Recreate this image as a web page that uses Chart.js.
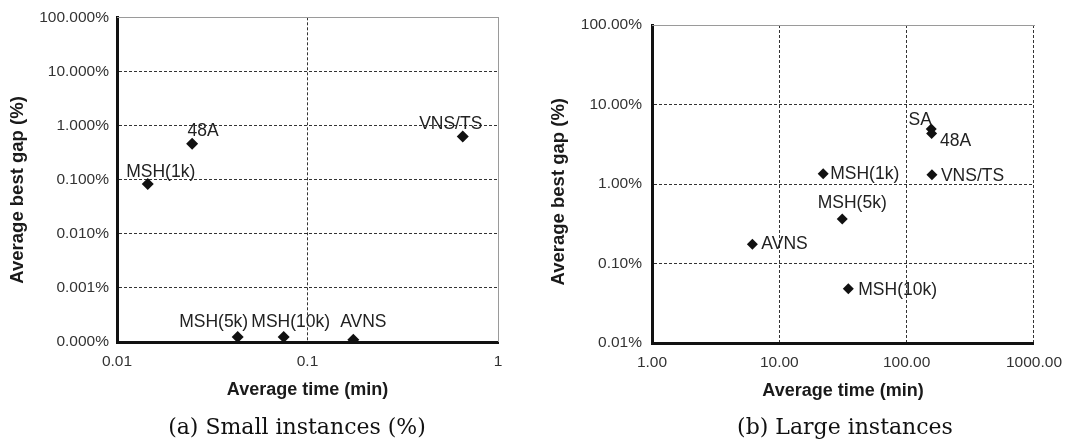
<!DOCTYPE html>
<html><head><meta charset="utf-8">
<script src="https://cdn.jsdelivr.net/npm/chart.js@4.4.0/dist/chart.umd.min.js"></script>
<style>
html,body{margin:0;padding:0;background:#fff;width:1072px;height:442px;overflow:hidden;position:relative;}
.wrap{position:absolute;top:0;width:536px;height:442px;}
.cap{position:absolute;width:400px;text-align:center;font-family:"DejaVu Serif",serif;font-size:22px;line-height:26px;color:#111;top:414px;white-space:nowrap;}
</style>
</head><body>
<div class="wrap" style="left:0"><canvas id="cA" width="536" height="442"></canvas></div>
<div class="wrap" style="left:536px"><canvas id="cB" width="536" height="442"></canvas></div>
<div class="cap" style="left:97px">(a) Small instances (%)</div>
<div class="cap" style="left:645px">(b) Large instances</div>
<script>
// ---- data: small instances ----
const smallMethods = ['MSH(1k)', '48A', 'VNS/TS', 'MSH(5k)', 'MSH(10k)', 'AVNS'];
const smallTime = [0.0145, 0.0248, 0.653, 0.043, 0.075, 0.174];
const smallGap = [0.083, 0.46, 0.63, 0.000124, 0.000124, 0.00011];
const smallXTicks = [0.01, 0.1, 1];
const smallXTickLabels = ['0.01', '0.1', '1'];
const smallYTicks = [0.0001, 0.001, 0.01, 0.1, 1, 10, 100];
const smallYTickLabels = ['0.000%', '0.001%', '0.010%', '0.100%', '1.000%', '10.000%', '100.000%'];

// ---- data: large instances ----
const largeMethods = ['SA', '48A', 'MSH(1k)', 'VNS/TS', 'MSH(5k)', 'AVNS', 'MSH(10k)'];
const largeTime = [156, 157, 22.1, 158, 31.2, 6.14, 34.8];
const largeGap = [4.92, 4.33, 1.35, 1.31, 0.364, 0.175, 0.048];
const largeXTicks = [1, 10, 100, 1000];
const largeXTickLabels = ['1.00', '10.00', '100.00', '1000.00'];
const largeYTicks = [0.01, 0.1, 1, 10, 100];
const largeYTickLabels = ['0.01%', '0.10%', '1.00%', '10.00%', '100.00%'];

const xTitle = 'Average time (min)';
const yTitle = 'Average best gap (%)';

// ---- label placement (style, not data) ----
const smallLabelPlace = [
  {align:'center', dx:13, dy:-12}, {align:'center', dx:11, dy:-13}, {align:'center', dx:-12, dy:-12},
  {align:'center', dx:-24, dy:-15}, {align:'center', dx:7, dy:-15}, {align:'center', dx:10, dy:-18}
];
const largeLabelPlace = [
  {align:'center', dx:-11, dy:-9}, {align:'center', dx:24, dy:8}, {align:'left', dx:7, dy:1},
  {align:'left', dx:9, dy:1}, {align:'center', dx:10, dy:-16}, {align:'left', dx:9, dy:0},
  {align:'left', dx:10, dy:1}
];

const SANS = '"Liberation Sans", Arial, sans-serif';

const pointLabels = {
  id: 'pointLabels',
  afterDatasetsDraw(chart, args, opts) {
    const ctx = chart.ctx;
    const meta = chart.getDatasetMeta(0);
    ctx.save();
    ctx.font = '17.5px ' + SANS;
    ctx.fillStyle = '#222';
    ctx.textBaseline = 'middle';
    meta.data.forEach((pt, i) => {
      const p = opts.place[i];
      ctx.textAlign = p.align;
      ctx.fillText(opts.names[i], pt.x + p.dx, pt.y + p.dy);
    });
    ctx.restore();
  }
};

const frame = {
  id: 'frame',
  beforeDatasetsDraw(chart, args, opts) {
    const ctx = chart.ctx, a = chart.chartArea;
    ctx.save();
    ctx.strokeStyle = '#9a9a9a';
    ctx.lineWidth = 1;
    ctx.beginPath();
    ctx.moveTo(a.left, Math.round(a.top) + 0.5);
    ctx.lineTo(Math.round(a.right) + 1, Math.round(a.top) + 0.5);
    if (opts.right) {
      ctx.moveTo(Math.round(a.right) + 0.5, a.top);
      ctx.lineTo(Math.round(a.right) + 0.5, a.bottom);
    }
    ctx.stroke();
    ctx.restore();
  }
};

function makeChart(id, cfg) {
  const ds = cfg.time.map((t, i) => ({x: t, y: cfg.gap[i]}));
  return new Chart(document.getElementById(id), {
    type: 'scatter',
    data: { datasets: [{ data: ds, pointStyle: 'rectRot', pointRadius: cfg.r, pointHoverRadius: cfg.r,
      backgroundColor: '#111', borderColor: '#111', borderWidth: 0 }] },
    options: {
      responsive: false, animation: false, events: [],
      layout: { padding: { left: 0, top: cfg.top, right: cfg.right, bottom: cfg.bottom } },
      plugins: {
        legend: { display: false }, tooltip: { enabled: false },
        pointLabels: { names: cfg.names, place: cfg.place },
        frame: { right: cfg.frameRight }
      },
      scales: {
        x: {
          type: 'logarithmic', min: cfg.xTicks[0], max: cfg.xTicks[cfg.xTicks.length - 1],
          afterBuildTicks: s => { s.ticks = cfg.xTicks.map(v => ({value: v})); },
          afterFit: s => { s.height = 62; },
          ticks: { autoSkip: false, maxRotation: 0, padding: 10, color: '#333', font: { family: SANS, size: 15.5 },
            callback: (v, i) => cfg.xLabels[i] },
          grid: { drawTicks: false, lineWidth: 1,
            color: c => (c.tick && c.tick.value === cfg.xTicks[cfg.xTicks.length - 1] && cfg.frameRight) ? 'rgba(0,0,0,0)' : '#333' },
          border: { display: true, width: 3, color: '#111', dash: [3, 2] },
          title: { display: true, text: xTitle, color: '#1a1a1a', padding: { top: 0, bottom: 3 },
            font: { family: SANS, size: 18, weight: 'bold' } }
        },
        y: {
          type: 'logarithmic', min: cfg.yTicks[0], max: cfg.yTicks[cfg.yTicks.length - 1],
          afterBuildTicks: s => { s.ticks = cfg.yTicks.map(v => ({value: v})); },
          afterFit: s => { s.width = cfg.yWidth; },
          ticks: { autoSkip: false, padding: cfg.yPad, color: '#333', font: { family: SANS, size: 15.5 },
            callback: (v, i) => cfg.yLabels[i] },
          grid: { drawTicks: false, lineWidth: 1,
            color: c => (c.tick && c.tick.value === cfg.yTicks[cfg.yTicks.length - 1]) ? 'rgba(0,0,0,0)' : '#333' },
          border: { display: true, width: 3, color: '#111', dash: [3, 2] },
          title: { display: true, text: yTitle + cfg.yTitleTail, color: '#1a1a1a', padding: { top: cfg.yTitlePad, bottom: 0 },
            font: { family: SANS, size: 18.5, weight: 'bold' } }
        }
      }
    },
    plugins: [pointLabels, frame]
  });
}

makeChart('cA', {
  time: smallTime, gap: smallGap, names: smallMethods, place: smallLabelPlace, r: 6,
  xTicks: smallXTicks, xLabels: smallXTickLabels, yTicks: smallYTicks, yLabels: smallYTickLabels,
  top: 15, right: 38, bottom: 38, yWidth: 117, yPad: 8, yTitlePad: 7, yTitleTail: '    ', frameRight: true
});
makeChart('cB', {
  time: largeTime, gap: largeGap, names: largeMethods, place: largeLabelPlace, r: 5.5,
  xTicks: largeXTicks, xLabels: largeXTickLabels, yTicks: largeYTicks, yLabels: largeYTickLabels,
  top: 25, right: 35, bottom: 37, yWidth: 116, yPad: 10, yTitlePad: 12, yTitleTail: '   ', frameRight: false
});
</script>
</body></html>
